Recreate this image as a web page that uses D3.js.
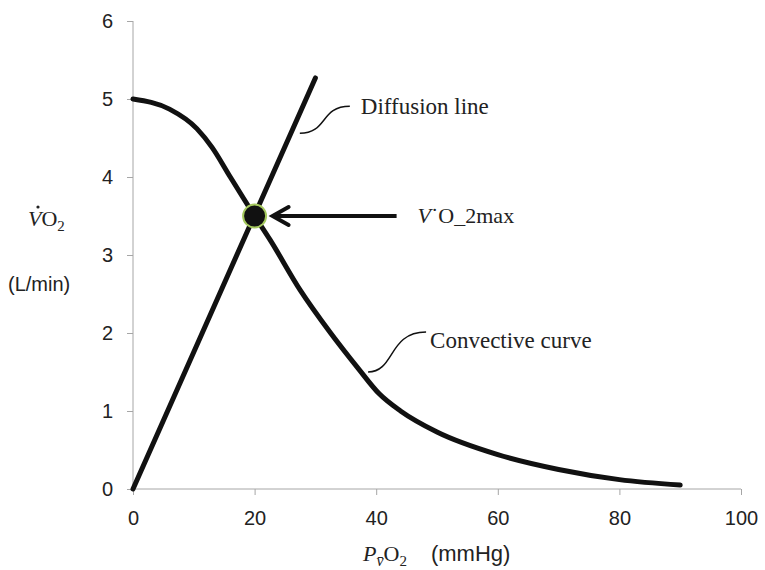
<!DOCTYPE html>
<html>
<head>
<meta charset="utf-8">
<script src="https://cdn.jsdelivr.net/npm/d3@7"></script>
<style>
  body { margin: 0; background: #fff; }
  .axis path, .axis line { stroke: #a6a6a6; }
  .axis text { font-family: "Liberation Sans", Arial, sans-serif; font-size: 20px; fill: #222; }
  .serif { font-family: "Liberation Serif", "Times New Roman", serif; }
  .sans { font-family: "Liberation Sans", Arial, sans-serif; }
</style>
</head>
<body>
<svg width="765" height="570"></svg>
<script>
// tick values
var xTicks = [0, 20, 40, 60, 80, 100];
var yTicks = [0, 1, 2, 3, 4, 5, 6];

// convective curve (PvO2 mmHg, VO2 L/min)
var convX = [0, 6, 10.5, 13, 16, 20, 22.5, 27.5, 32.5, 37, 40.5, 44, 50, 60, 70, 80, 90];
var convY = [5.0, 4.87, 4.62, 4.38, 4.0, 3.5, 3.2, 2.55, 2.0, 1.55, 1.22, 1.0, 0.73, 0.44, 0.25, 0.12, 0.05];

// diffusion line
var diffX = [0, 30];
var diffY = [0, 5.27];

// VO2max point
var maxX = [20];
var maxY = [3.5];

// Set the dimensions
var margin = {top: 21, right: 24, bottom: 81, left: 133},
    width = 765 - margin.left - margin.right,
    height = 570 - margin.top - margin.bottom;

var x = d3.scaleLinear().domain([0, 100]).range([0, width]);
var y = d3.scaleLinear().domain([0, 6]).range([height, 0]);

var svg = d3.select("svg")
  .append("g")
    .attr("transform", "translate(" + margin.left + "," + margin.top + ")");

// Axes
svg.append("g")
    .attr("class", "x axis")
    .attr("transform", "translate(0," + height + ")")
    .call(d3.axisBottom(x).tickValues(xTicks).tickFormat(d3.format("d")).tickSize(6).tickPadding(16))
    .call(function(g) { g.select(".domain").attr("d", "M0,0H" + width); });

svg.append("g")
    .attr("class", "y axis")
    .call(d3.axisLeft(y).tickValues(yTicks).tickFormat(d3.format("d")).tickSize(6).tickPadding(14))
    .call(function(g) { g.select(".domain").attr("d", "M0," + y(6) + "V" + height); });

var line = d3.line()
    .x(function(d) { return x(d[0]); })
    .y(function(d) { return y(d[1]); });

// convective curve
svg.append("path")
    .attr("d", line.curve(d3.curveMonotoneX)(d3.zip(convX, convY)))
    .attr("fill", "none")
    .attr("stroke", "#111")
    .attr("stroke-width", 5)
    .attr("stroke-linecap", "round");

// diffusion line
svg.append("path")
    .attr("d", line.curve(d3.curveLinear)(d3.zip(diffX, diffY)))
    .attr("fill", "none")
    .attr("stroke", "#111")
    .attr("stroke-width", 5)
    .attr("stroke-linecap", "round");

// VO2max dot
svg.append("circle")
    .attr("cx", x(maxX[0]))
    .attr("cy", y(maxY[0]))
    .attr("r", 11.5)
    .attr("fill", "#111")
    .attr("stroke", "#a5c95e")
    .attr("stroke-width", 2);

// arrow to the dot
var ax = x(maxX[0]), ay = y(maxY[0]);
svg.append("line")
    .attr("x1", ax + 18).attr("y1", ay)
    .attr("x2", ax + 142).attr("y2", ay)
    .attr("stroke", "#111")
    .attr("stroke-width", 4);
svg.append("path")
    .attr("d", "M" + (ax + 34) + "," + (ay - 9) + "L" + (ax + 18) + "," + ay + "L" + (ax + 34) + "," + (ay + 9))
    .attr("fill", "none")
    .attr("stroke", "#111")
    .attr("stroke-width", 4)
    .attr("stroke-linecap", "round");

var vmax = svg.append("text")
    .attr("class", "serif")
    .attr("x", ax + 163)
    .attr("y", ay + 7)
    .style("font-size", "22px")
    .attr("fill", "#222");
vmax.append("tspan").style("font-style", "italic").text("V");
vmax.append("tspan").text("˙O_2max");

// leader for diffusion line
var dy0 = y(4.56), dx0 = x(4.56 / (diffY[1] / diffX[1]));
svg.append("path")
    .attr("d", "M" + (dx0 + 9) + "," + dy0 +
               "C" + (dx0 + 37) + "," + dy0 + " " + (dx0 + 29) + "," + (dy0 - 27) + " " + (dx0 + 59) + "," + (dy0 - 27))
    .attr("fill", "none")
    .attr("stroke", "#111")
    .attr("stroke-width", 1.5);
svg.append("text")
    .attr("class", "serif")
    .attr("x", dx0 + 70)
    .attr("y", dy0 - 19)
    .style("font-size", "23px")
    .attr("fill", "#222")
    .text("Diffusion line");

// leader for convective curve
var cx0 = x(38.5), cy0 = y(1.5);
svg.append("path")
    .attr("d", "M" + (cx0 + 1) + "," + cy0 +
               "C" + (cx0 + 28) + "," + cy0 + " " + (cx0 + 21) + "," + (cy0 - 40) + " " + (cx0 + 59) + "," + (cy0 - 40))
    .attr("fill", "none")
    .attr("stroke", "#111")
    .attr("stroke-width", 1.5);
svg.append("text")
    .attr("class", "serif")
    .attr("x", cx0 + 63)
    .attr("y", cy0 - 24)
    .style("font-size", "23px")
    .attr("fill", "#222")
    .text("Convective curve");

// y axis title
var root = d3.select("svg");
var yt = root.append("text")
    .attr("class", "serif")
    .attr("x", 28)
    .attr("y", 226)
    .style("font-size", "22px")
    .attr("fill", "#222");
yt.append("tspan").style("font-style", "italic").text("V");
yt.append("tspan").text("O");
yt.append("tspan").attr("dy", 5).style("font-size", "15px").text("2");
// dot over the V
root.append("circle")
    .attr("cx", 38).attr("cy", 207)
    .attr("r", 1.6)
    .attr("fill", "#222");

root.append("text")
    .attr("class", "sans")
    .attr("x", 8)
    .attr("y", 291)
    .style("font-size", "20px")
    .attr("fill", "#222")
    .text("(L/min)");

// x axis title
var xt = root.append("text")
    .attr("class", "serif")
    .attr("x", 363)
    .attr("y", 561)
    .style("font-size", "22px")
    .attr("fill", "#222");
xt.append("tspan").style("font-style", "italic").text("P");
xt.append("tspan").attr("dy", 5).style("font-size", "16px").style("font-style", "italic").text("v̄");
xt.append("tspan").attr("dy", -5).text("O");
xt.append("tspan").attr("dy", 5).style("font-size", "15px").text("2");
xt.append("tspan").attr("dy", -5).attr("class", "sans").style("font-size", "22px").attr("dx", 24).text("(mmHg)");
</script>
</body>
</html>
